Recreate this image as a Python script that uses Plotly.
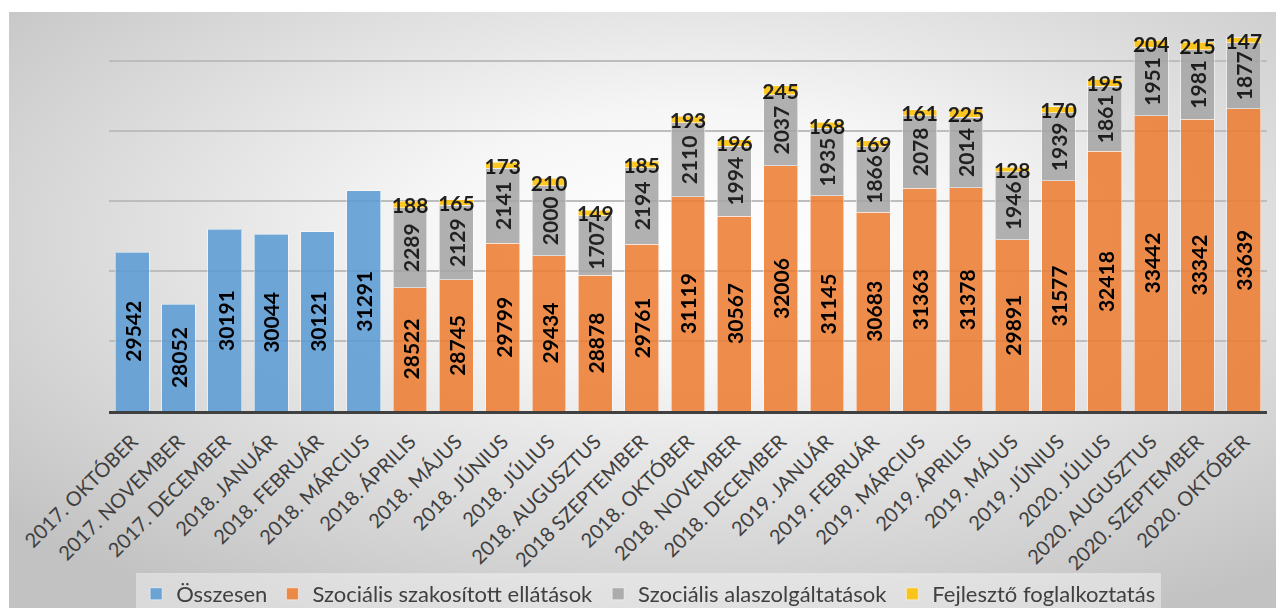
import base64
import plotly.graph_objects as go

categories = [
    "2017. OKTÓBER", "2017. NOVEMBER", "2017. DECEMBER", "2018. JANUÁR",
    "2018. FEBRUÁR", "2018. MÁRCIUS", "2018. ÁPRILIS", "2018. MÁJUS",
    "2018. JÚNIUS", "2018. JÚLIUS", "2018. AUGUSZTUS", "2018 SZEPTEMBER",
    "2018. OKTÓBER", "2018. NOVEMBER", "2018. DECEMBER", "2019. JANUÁR",
    "2019. FEBRUÁR", "2019. MÁRCIUS", "2019. ÁPRILIS", "2019. MÁJUS",
    "2019. JÚNIUS", "2020. JÚLIUS", "2020. AUGUSZTUS", "2020. SZEPTEMBER",
    "2020. OKTÓBER",
]

osszesen_cats = categories[:6]
osszesen = [29542, 28052, 30191, 30044, 30121, 31291]

detail_cats = categories[6:]
szakositott = [28522, 28745, 29799, 29434, 28878, 29761, 31119, 30567, 32006,
               31145, 30683, 31363, 31378, 29891, 31577, 32418, 33442, 33342, 33639]
alapszolg = [2289, 2129, 2141, 2000, 1707, 2194, 2110, 1994, 2037,
             1935, 1866, 2078, 2014, 1946, 1939, 1861, 1951, 1981, 1877]
fejleszto = [188, 165, 173, 210, 149, 185, 193, 196, 245,
             168, 169, 161, 225, 128, 170, 195, 204, 215, 147]

names = ["Összesen", "Szociális szakosított ellátások",
         "Szociális alaszolgáltatások", "Fejlesztő foglalkoztatás"]
colors = ["#5B9BD5", "#ED7D31", "#A5A5A5", "#FFC000"]

Y_MIN, Y_MAX = 25000, 36400

label_font = dict(family="Lato", size=21, color="black", weight="bold")
bar_line = dict(color="rgba(255,255,255,0.55)", width=1)

fig = go.Figure()
fig.add_trace(go.Bar(
    x=osszesen_cats, y=osszesen, name=names[0], marker=dict(color=colors[0], line=bar_line),
    opacity=0.87,
))
fig.add_trace(go.Bar(
    x=detail_cats, y=szakositott, name=names[1], marker=dict(color=colors[1], line=bar_line),
    opacity=0.87,
))
fig.add_trace(go.Bar(
    x=detail_cats, y=alapszolg, name=names[2], marker=dict(color=colors[2], line=bar_line),
    opacity=0.87, text=[str(v) for v in alapszolg], textposition="inside",
    insidetextanchor="middle", textangle=-90, insidetextfont=label_font, cliponaxis=False,
))
fig.add_trace(go.Bar(
    x=detail_cats, y=fejleszto, name=names[3], marker=dict(color=colors[3], line=bar_line),
    opacity=0.87, text=[str(v) for v in fejleszto], textposition="inside",
    insidetextanchor="middle", textangle=0, insidetextfont=label_font, cliponaxis=False,
))

# labels for the bottom segments (centred in the visible part of the bar)
for cats, vals in ((osszesen_cats, osszesen), (detail_cats, szakositott)):
    for c, v in zip(cats, vals):
        fig.add_annotation(
            x=c, y=(Y_MIN + v) / 2, xref="x", yref="y", text=str(v),
            textangle=-90, showarrow=False, font=label_font,
        )

# background radial gradient panel
svg = (
    '<svg xmlns="http://www.w3.org/2000/svg" width="1275" height="596" preserveAspectRatio="none">'
    '<defs><radialGradient id="g" cx="0.54" cy="0.38" r="0.72">'
    '<stop offset="0" stop-color="#ffffff"/>'
    '<stop offset="0.3" stop-color="#f6f6f6"/>'
    '<stop offset="1" stop-color="#c2c2c2"/>'
    '</radialGradient></defs>'
    '<rect width="1275" height="596" fill="url(#g)"/></svg>'
)
src = "data:image/svg+xml;base64," + base64.b64encode(svg.encode()).decode()

# the page body has an 8px margin, so the figure is drawn 8px in from the window edge
W, H = 1276, 600
L, R, T, B = 101, 17, 4, 197
pw, ph = W - L - R, H - T - B

fig.add_layout_image(dict(
    source=src, xref="paper", yref="paper",
    x=(1 - L) / pw, y=1.0, sizex=(W - 1) / pw, sizey=(H - T) / ph,
    xanchor="left", yanchor="top", sizing="stretch", layer="below",
))

fig.update_layout(
    width=W, height=H,
    margin=dict(l=L, r=R, t=T, b=B, autoexpand=False),
    barmode="stack", bargap=0.27,
    paper_bgcolor="white", plot_bgcolor="rgba(0,0,0,0)",
    font=dict(family="Lato", color="#404040"),
    uniformtext=dict(minsize=21, mode="show"),
    showlegend=True,
    legend=dict(
        orientation="h", x=0.466, xanchor="center", y=(T + ph - 586) / ph, yanchor="middle",
        font=dict(size=22, color="#404040", family="Lato"),
        bgcolor="rgba(255,255,255,0.4)", traceorder="normal",
        itemwidth=30, tracegroupgap=0,
    ),
    xaxis=dict(
        categoryorder="array", categoryarray=categories,
        tickangle=-45, tickfont=dict(size=20, color="#404040", family="Lato"),
        showline=True, linecolor="#404040", linewidth=3,
        showgrid=False, ticks="", ticklabelstandoff=8, automargin=False,
    ),
    yaxis=dict(
        range=[Y_MIN, Y_MAX], tickmode="linear", tick0=25000, dtick=2000,
        showticklabels=False, showgrid=True, gridcolor="#bdbdbd", gridwidth=1.5,
        zeroline=False, showline=False, automargin=False,
    ),
)

fig.write_html("out.html")
